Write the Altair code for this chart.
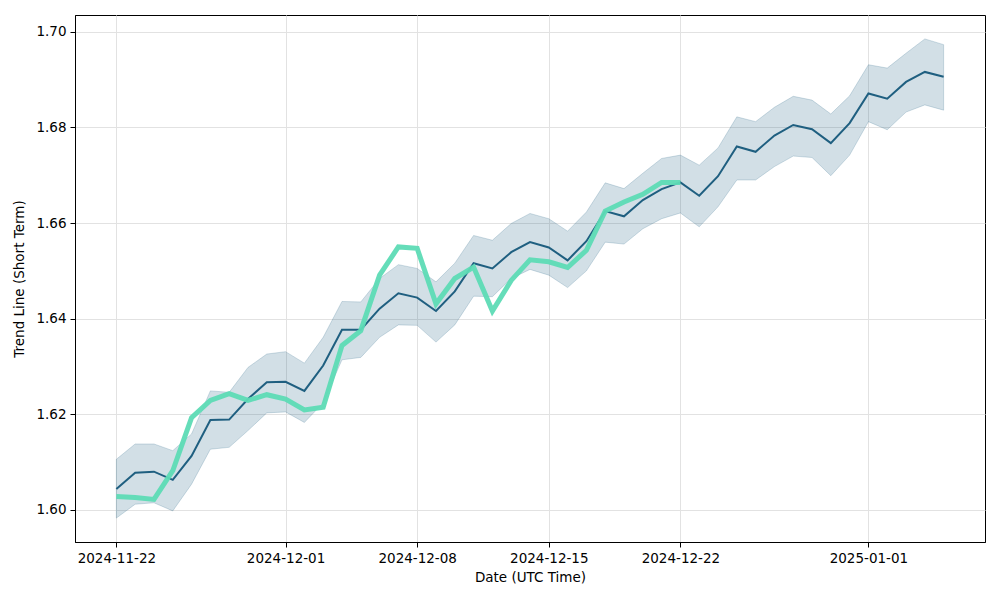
import altair as alt
import pandas as pd

dates = [d.strftime("%Y-%m-%d") for d in pd.date_range("2024-11-22", periods=45, freq="D")]

trend = [1.6044, 1.6078, 1.6080, 1.6063, 1.6113, 1.6188, 1.6189, 1.6232, 1.6267, 1.6268,
         1.6249, 1.6302, 1.6377, 1.6377, 1.6421, 1.6453, 1.6444, 1.6416, 1.6457, 1.6516,
         1.6505, 1.6539, 1.6560, 1.6549, 1.6522, 1.6562, 1.6625, 1.6614, 1.6648, 1.6671,
         1.6685, 1.6657, 1.6698, 1.6760, 1.6749, 1.6783, 1.6805, 1.6796, 1.6767, 1.6809,
         1.6871, 1.6860, 1.6895, 1.6916, 1.6906]

upper = [1.6106, 1.6138, 1.6138, 1.6124, 1.6159, 1.6249, 1.6246, 1.6298, 1.6326, 1.6331,
         1.6307, 1.6361, 1.6436, 1.6435, 1.6484, 1.6513, 1.6505, 1.6477, 1.6516, 1.6574,
         1.6564, 1.6599, 1.6620, 1.6609, 1.6583, 1.6623, 1.6684, 1.6672, 1.6704, 1.6735,
         1.6742, 1.6721, 1.6757, 1.6822, 1.6812, 1.6842, 1.6865, 1.6857, 1.6828, 1.6866,
         1.6931, 1.6924, 1.6955, 1.6985, 1.6973]

lower = [1.5983, 1.6012, 1.6015, 1.5998, 1.6054, 1.6127, 1.6131, 1.6166, 1.6203, 1.6205,
         1.6183, 1.6224, 1.6314, 1.6319, 1.6361, 1.6387, 1.6386, 1.6351, 1.6387, 1.6447,
         1.6446, 1.6484, 1.6503, 1.6491, 1.6465, 1.6500, 1.6560, 1.6556, 1.6588, 1.6609,
         1.6621, 1.6592, 1.6634, 1.6690, 1.6690, 1.6718, 1.6740, 1.6737, 1.6699, 1.6742,
         1.6812, 1.6795, 1.6832, 1.6847, 1.6836]

actual = [1.6028, 1.6026, 1.6022, 1.6082, 1.6193, 1.6229, 1.6243, 1.6229, 1.6241, 1.6232,
          1.6209, 1.6215, 1.6344, 1.6375, 1.6491, 1.6550, 1.6547, 1.6431, 1.6484, 1.6508,
          1.6416, 1.6480, 1.6523, 1.6519, 1.6507, 1.6543, 1.6625, 1.6644, 1.6660, 1.6685,
          1.6685]

y_ticks = [1.60, 1.62, 1.64, 1.66, 1.68, 1.70]
x_ticks = ["2024-11-22", "2024-12-01", "2024-12-08", "2024-12-15", "2024-12-22", "2025-01-01"]

forecast_df = pd.DataFrame({"date": dates, "trend": trend, "upper": upper, "lower": lower})
actual_df = pd.DataFrame({"date": dates[:len(actual)], "actual": actual})

FONT = "DejaVu Sans"
DARK = "#1f5f80"
GREEN = "#5ddbb5"


def dt(s, hours=0, minutes=0):
    y, m, d = (int(p) for p in s.split("-"))
    return alt.DateTime(year=y, month=m, date=d, hours=hours, minutes=minutes, utc=True)


x_enc = alt.X(
    "date:T",
    scale=alt.Scale(type="utc", domain=[dt("2024-11-19", 19, 12), dt("2025-01-07", 4, 48)], nice=False),
    axis=alt.Axis(
        values=[dt(s) for s in x_ticks],
        labelExpr="utcFormat(datum.value, '%Y-%m-%d')",
        title="Date (UTC Time)",
        grid=True,
    ),
)
y_scale = alt.Scale(domain=[1.5933, 1.7035], nice=False, zero=False)
y_axis = alt.Axis(values=y_ticks, format=".2f", title="Trend Line (Short Term)", grid=True)

band = alt.Chart(forecast_df).mark_area(
    color=DARK, fillOpacity=0.2, stroke=DARK, strokeOpacity=0.2, strokeWidth=1
).encode(
    x=x_enc,
    y=alt.Y("lower:Q", scale=y_scale, axis=y_axis),
    y2="upper:Q",
)

trend_line = alt.Chart(forecast_df).mark_line(color=DARK, strokeWidth=2).encode(
    x=x_enc, y=alt.Y("trend:Q", scale=y_scale, axis=y_axis)
)

actual_line = alt.Chart(actual_df).mark_line(color=GREEN, strokeWidth=5, opacity=0.95).encode(
    x=x_enc, y=alt.Y("actual:Q", scale=y_scale, axis=y_axis)
)

chart = (
    alt.layer(band, trend_line, actual_line)
    .properties(
        width=910,
        height=527,
        autosize=alt.AutoSizeParams(type="none"),
        padding={"left": 67, "top": 7, "right": 7, "bottom": 50},
        background="white",
    )
    .configure_view(stroke="black", strokeWidth=1)
    .configure_axis(
        labelFont=FONT,
        titleFont=FONT,
        labelFontSize=13.5,
        titleFontSize=13.5,
        titleFontWeight="normal",
        labelColor="black",
        titleColor="black",
        tickColor="black",
        tickSize=5,
        tickWidth=1,
        domainColor="black",
        domainWidth=1,
        gridColor="#e2e2e2",
        gridWidth=1,
        labelPadding=4,
    )
    .configure_axisX(titlePadding=6, labelAngle=0)
    .configure_axisY(titlePadding=9)
)

chart.save("out.html", embed_options={"renderer": "svg", "actions": False})
